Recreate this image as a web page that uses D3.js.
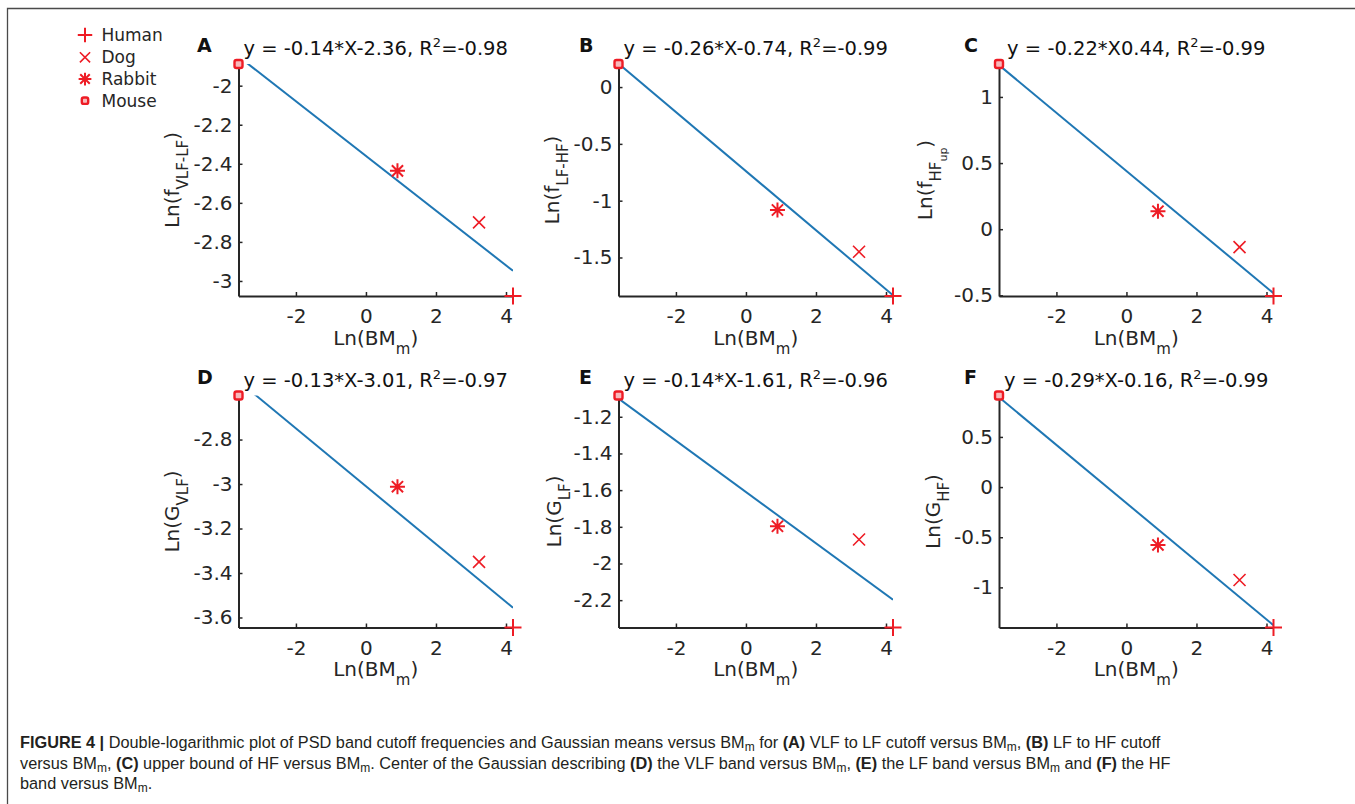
<!DOCTYPE html>
<html><head><meta charset="utf-8">
<script src="https://cdn.jsdelivr.net/npm/d3@7"></script>
<style>
body{margin:0;background:#fff;}
svg{display:block;}
</style></head><body>
<svg id="fig" width="1355" height="804"></svg>
<script>
// ---------------- data ----------------
const species = ["Human", "Dog", "Rabbit", "Mouse"];
const markerTypes = ["plus", "cross", "star", "square"];
const lnBM = [4.2, 3.23, 0.9, -3.64];           // Ln(BM_m) per species
const panelIds = ["A", "B", "C", "D", "E", "F"];
const valsA = [-3.077, -2.70, -2.436, -1.889];  // Ln(f VLF-LF)
const valsB = [-1.839, -1.45, -1.082, 0.203];   // Ln(f LF-HF)
const valsC = [-0.505, -0.135, 0.136, 1.249];   // Ln(f HF_up)
const valsD = [-3.645, -3.35, -3.012, -2.602];  // Ln(G VLF)
const valsE = [-2.349, -1.869, -1.797, -1.084]; // Ln(G LF)
const valsF = [-1.40, -0.927, -0.577, 0.913];   // Ln(G HF)
const slopes = [-0.14, -0.26, -0.22, -0.13, -0.14, -0.29];
const intercepts = [-2.36, -0.74, 0.44, -3.01, -1.61, -0.16];
const eqLabels = ["y = -0.14*X-2.36, R", "y = -0.26*X-0.74, R", "y = -0.22*X0.44, R",
                  "y = -0.13*X-3.01, R", "y = -0.14*X-1.61, R", "y = -0.29*X-0.16, R"];
const r2Labels = ["-0.98", "-0.99", "-0.99", "-0.97", "-0.96", "-0.99"];
const xTicks = [-2, 0, 2, 4];
const ticksA = [-3, -2.8, -2.6, -2.4, -2.2, -2];
const ticksB = [-1.5, -1, -0.5, 0];
const ticksC = [-0.5, 0, 0.5, 1];
const ticksD = [-3.6, -3.4, -3.2, -3, -2.8];
const ticksE = [-2.2, -2, -1.8, -1.6, -1.4, -1.2];
const ticksF = [-1, -0.5, 0, 0.5];
const yLabelMain = ["f", "f", "f", "G", "G", "G"];
const yLabelSub = ["VLF-LF", "LF-HF", "HF", "VLF", "LF", "HF"];
const yLabelSubSub = ["", "", "up", "", "", ""];

const panelVals = [valsA, valsB, valsC, valsD, valsE, valsF];
const panelTicks = [ticksA, ticksB, ticksC, ticksD, ticksE, ticksF];

// ---------------- layout ----------------
const colX = [238.5, 618.5, 999];
const rowY = [64, 395.5];
const pw = 274.5, ph = 232;
const letterX = [197, 579, 964];
const yLabOff = [60, 60, 67, 60, 58, 59];
const RED = "#ee1c25", BLUE = "#1f77b4", AX = "#262626";
const FONT = "DejaVu Sans, sans-serif";

const svg = d3.select("#fig");
svg.append("rect").attr("width", 1355).attr("height", 804).attr("fill", "#fff");

// frame
svg.append("path").attr("d", "M7.5,804V8.5H1355").attr("fill", "none")
  .attr("stroke", "#4a4a4a").attr("stroke-width", 1.3);

// rich text helper: segments [text, size, shift, weight]
function rich(sel, segs) {
  let prev = 0;
  segs.forEach(s => {
    const t = sel.append("tspan").text(s[0]).attr("font-size", s[1]);
    const dy = (s[2] || 0) - prev;
    if (dy !== 0) t.attr("dy", dy);
    prev = s[2] || 0;
    if (s[3]) t.attr("font-weight", s[3]);
  });
}

function marker(g, type, cx, cy, k) {
  const s = k || 1;
  if (type === "plus") {
    const h = 8.5 * s;
    g.append("path").attr("d", `M${cx - h},${cy}H${cx + h}M${cx},${cy - h}V${cy + h}`)
      .attr("stroke", RED).attr("stroke-width", 2).attr("fill", "none");
  } else if (type === "cross") {
    const h = 6 * s;
    g.append("path").attr("d", `M${cx - h},${cy - h}L${cx + h},${cy + h}M${cx - h},${cy + h}L${cx + h},${cy - h}`)
      .attr("stroke", RED).attr("stroke-width", 1.6).attr("fill", "none");
  } else if (type === "star") {
    const h = 7.5 * s, d = 5.6 * s;
    g.append("path").attr("d", `M${cx - h},${cy}H${cx + h}M${cx},${cy - h}V${cy + h}M${cx - d},${cy - d}L${cx + d},${cy + d}M${cx - d},${cy + d}L${cx + d},${cy - d}`)
      .attr("stroke", RED).attr("stroke-width", 2).attr("fill", "none");
  } else {
    const h = 4 * s;
    g.append("rect").attr("x", cx - h).attr("y", cy - h).attr("width", 2 * h).attr("height", 2 * h)
      .attr("rx", 2).attr("stroke", RED).attr("stroke-width", 2.4).attr("fill", "#f7b9bb");
  }
}

const fmt = d => String(+d.toFixed(1));

panelIds.forEach((id, i) => {
  const col = i % 3, row = Math.floor(i / 3);
  const ox = colX[col], oy = rowY[row];
  const vals = panelVals[i];
  const x = d3.scaleLinear().domain(d3.extent(lnBM)).range([0, pw]);
  const y = d3.scaleLinear().domain(d3.extent(vals)).range([ph, 0]);
  const g = svg.append("g").attr("transform", `translate(${ox},${oy})`);

  const clipId = "clip" + id;
  g.append("clipPath").attr("id", clipId).append("rect").attr("width", pw).attr("height", ph);

  // fit line
  const fx = d3.extent(lnBM);
  const fitPts = fx.map(v => [v, slopes[i] * v + intercepts[i]]);
  g.append("path").datum(fitPts)
    .attr("d", d3.line().x(d => x(d[0])).y(d => y(d[1])))
    .attr("clip-path", `url(#${clipId})`)
    .attr("fill", "none").attr("stroke", BLUE).attr("stroke-width", 2);

  // axes
  const xa = g.append("g").attr("transform", `translate(0,${ph})`)
    .call(d3.axisBottom(x).tickValues(xTicks).tickFormat(fmt).tickSizeInner(-4).tickSizeOuter(0).tickPadding(13));
  const ya = g.append("g")
    .call(d3.axisLeft(y).tickValues(panelTicks[i]).tickFormat(fmt).tickSizeInner(-4).tickSizeOuter(0).tickPadding(6));
  [xa, ya].forEach(a => {
    a.select(".domain").attr("stroke", AX).attr("stroke-width", 2);
    a.selectAll(".tick line").attr("stroke", AX).attr("stroke-width", 1.5);
    a.selectAll(".tick text").attr("fill", AX).attr("font-size", 20).attr("font-family", FONT);
  });

  // markers
  species.forEach((sp, j) => marker(g, markerTypes[j], x(lnBM[j]), y(vals[j])));

  // equation title
  const eq = g.append("text").attr("x", pw / 2).attr("y", -9).attr("text-anchor", "middle")
    .attr("font-family", FONT).attr("fill", "#111");
  rich(eq, [[eqLabels[i], 19.5, 0], ["2", 13, -8], ["=" + r2Labels[i], 19.5, 0]]);

  // panel letter
  svg.append("text").attr("x", letterX[col]).attr("y", oy - 12).text(id)
    .attr("font-family", FONT).attr("font-weight", "bold").attr("font-size", 19).attr("fill", "#111");

  // x label
  const xl = g.append("text").attr("x", pw / 2).attr("y", ph + 48.5).attr("text-anchor", "middle")
    .attr("font-family", FONT).attr("fill", AX);
  rich(xl, [["Ln(BM", 20, 0], ["m", 15, 9], [")", 20, 0]]);

  // y label
  const yl = g.append("text").attr("transform", `translate(${-yLabOff[i]},${ph / 2}) rotate(-90)`)
    .attr("text-anchor", "middle").attr("font-family", FONT).attr("fill", AX);
  const segs = [["Ln(" + yLabelMain[i], 20, 0], [yLabelSub[i], 15, 9]];
  if (yLabelSubSub[i]) segs.push([yLabelSubSub[i], 11, 15]);
  segs.push([")", 20, 0]);
  rich(yl, segs);
});

// legend
const legY = [35, 57.3, 79, 100.7];
species.forEach((sp, j) => {
  marker(svg, markerTypes[j], 85, legY[j], j === 3 ? 0.8 : 0.85);
  svg.append("text").attr("x", 101.5).attr("y", legY[j]).attr("dy", "0.36em").text(sp)
    .attr("font-family", FONT).attr("font-size", 17).attr("fill", AX);
});

// caption
const capFont = "'Liberation Sans Narrow', 'Arial Narrow', sans-serif";
const B = "bold";
const F = 16.3, S = 12;
const capLines = [
  [["FIGURE 4 | ", F, 0, B], ["Double-logarithmic plot of PSD band cutoff frequencies and Gaussian means versus BM", F, 0], ["m", S, 3], [" for ", F, 0], ["(A)", F, 0, B], [" VLF to LF cutoff versus BM", F, 0], ["m", S, 3], [", ", F, 0], ["(B)", F, 0, B], [" LF to HF cutoff", F, 0]],
  [["versus BM", F, 0], ["m", S, 3], [", ", F, 0], ["(C)", F, 0, B], [" upper bound of HF versus BM", F, 0], ["m", S, 3], [". Center of the Gaussian describing ", F, 0], ["(D)", F, 0, B], [" the VLF band versus BM", F, 0], ["m", S, 3], [", ", F, 0], ["(E)", F, 0, B], [" the LF band versus BM", F, 0], ["m", S, 3], [" and ", F, 0], ["(F)", F, 0, B], [" the HF", F, 0]],
  [["band versus BM", F, 0], ["m", S, 3], [".", F, 0]]
];
const capY = [748, 768.5, 789];
capLines.forEach((ln, k) => {
  const t = svg.append("text").attr("x", 20).attr("y", capY[k])
    .attr("font-family", capFont).attr("fill", "#231f20").attr("xml:space", "preserve");
  rich(t, ln);
});
</script>
</body></html>
